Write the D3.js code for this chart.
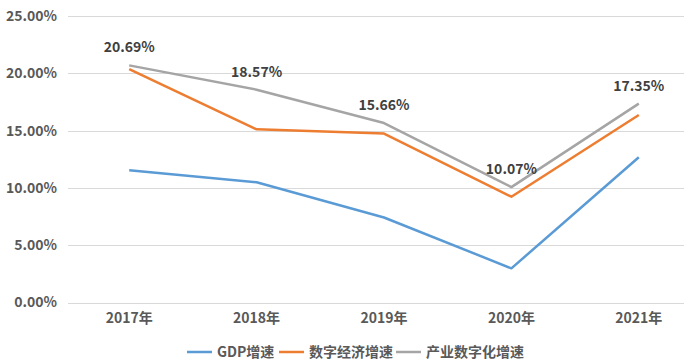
<!DOCTYPE html>
<html>
<head>
<meta charset="utf-8">
<script src="https://cdn.jsdelivr.net/npm/d3@7"></script>
<style>
  body { margin: 0; background: #fff; }
  text { font-family: "Noto Sans CJK SC", "Open Sans", sans-serif; font-weight: bold; }
</style>
</head>
<body>
<div id="chart_id"></div>
<script>
// data
var years = ["2017年", "2018年", "2019年", "2020年", "2021年"];
var gdp = [11.54, 10.49, 7.42, 2.98, 12.67];
var digital = [20.37, 15.11, 14.74, 9.23, 16.36];
var industry = [20.69, 18.57, 15.66, 10.07, 17.35];
var yTicks = [0, 5, 10, 15, 20, 25];
var seriesNames = ["GDP增速", "数字经济增速", "产业数字化增速"];
var colors = ["#5B9BD5", "#ED7D31", "#A5A5A5"];

var W = 684, H = 362;
var svg = d3.select("#chart_id")
  .append("svg")
    .attr("width", W)
    .attr("height", H);

// scales
var x = d3.scaleBand()
    .domain(years)
    .range([65.5, 702.5]);

var y = d3.scaleLinear()
    .domain([0, 25])
    .range([302.5, 16]);

// gridlines
svg.append("g")
  .selectAll("line")
  .data(yTicks)
  .enter()
  .append("line")
    .attr("x1", 68)
    .attr("x2", W)
    .attr("y1", function(d) { return Math.round(y(d)) + 0.5; })
    .attr("y2", function(d) { return Math.round(y(d)) + 0.5; })
    .style("stroke", "#d9d9d9")
    .style("stroke-width", 1);

// y axis labels
var yAxis = svg.append("g")
    .attr("transform", "translate(57,0)")
    .call(d3.axisLeft(y).tickValues(yTicks).tickSize(0).tickPadding(0)
      .tickFormat(function(d) { return d.toFixed(2) + "%"; }));
yAxis.select(".domain").remove();
yAxis.selectAll(".tick text")
    .style("font-size", "14px")
    .style("font-family", "Noto Sans CJK SC")
    .style("font-weight", "bold")
    .style("fill", "#595959");

// x axis labels
var xAxis = svg.append("g")
    .attr("transform", "translate(0,302.5)")
    .call(d3.axisBottom(x).tickSize(0).tickPadding(11));
xAxis.select(".domain").remove();
xAxis.selectAll(".tick text")
    .style("font-size", "14px")
    .style("font-family", "Noto Sans CJK SC")
    .style("font-weight", "bold")
    .style("fill", "#595959");

// lines
var allSeries = [gdp, digital, industry];
var line = d3.line()
    .x(function(d, i) { return x(years[i]) + x.bandwidth() / 2; })
    .y(function(d) { return y(d); });

svg.selectAll(".series")
  .data(allSeries)
  .enter()
  .append("path")
    .attr("class", "series")
    .attr("d", line)
    .style("fill", "none")
    .style("stroke", function(d, i) { return colors[i]; })
    .style("stroke-width", 2.5)
    .style("stroke-linejoin", "round");

// data labels on the industry series
svg.selectAll(".dlabel")
  .data(industry)
  .enter()
  .append("text")
    .attr("class", "dlabel")
    .attr("x", function(d, i) { return x(years[i]) + x.bandwidth() / 2; })
    .attr("y", function(d) { return y(d) - 18; })
    .attr("dy", "0.35em")
    .attr("text-anchor", "middle")
    .style("font-size", "14px")
    .style("fill", "#404040")
    .text(function(d) { return d.toFixed(2) + "%"; });

// legend
var legendX = [187, 279, 396];
var lg = svg.selectAll(".legend")
  .data(seriesNames)
  .enter()
  .append("g")
    .attr("class", "legend")
    .attr("transform", function(d, i) { return "translate(" + legendX[i] + ",352)"; });

lg.append("line")
    .attr("x1", 0)
    .attr("x2", 25)
    .style("stroke", function(d, i) { return colors[i]; })
    .style("stroke-width", 2.5);

lg.append("text")
    .attr("x", 30)
    .attr("dy", "0.35em")
    .style("font-size", "14px")
    .style("fill", "#595959")
    .text(function(d) { return d; });
</script>
</body>
</html>
